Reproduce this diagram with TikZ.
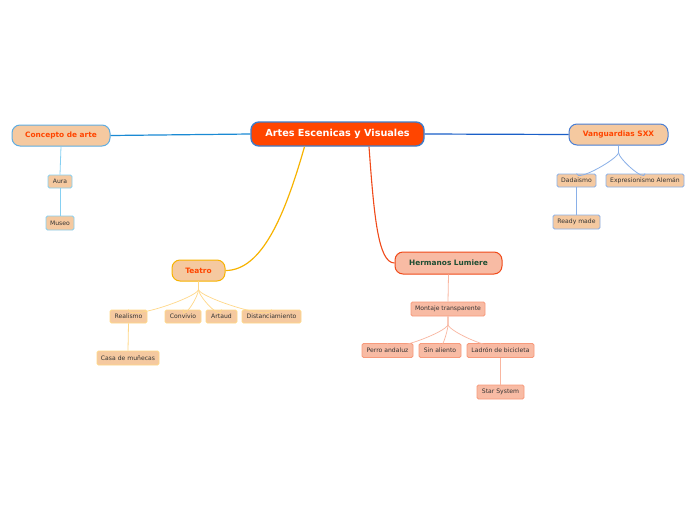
\documentclass[tikz,border=0pt]{standalone}
\usepackage{fontspec}
\setmainfont{DejaVu Sans}
\begin{document}
\begin{tikzpicture}[x=1pt,y=-1pt,
  rootbox/.style={draw=rootb,line width=1.4pt,fill=rootf,rounded corners=8pt,inner sep=0pt,text=white,font=\fontsize{9.7}{11}\selectfont\bfseries},
  lvlbox/.style={fill=peach,line width=1pt,rounded corners=8pt,inner sep=0pt,text=redtxt,font=\fontsize{7.4}{9}\selectfont\bfseries},
  leaf/.style={fill=peach,line width=0.9pt,rounded corners=1.5pt,inner sep=0pt,text=leaftxt,font=\fontsize{6.1}{7}\selectfont},
  sleaf/.style={leaf,fill=salmon,draw=salmonb},
]
\definecolor{rootf}{HTML}{FF4500}
\definecolor{rootb}{HTML}{3E7CC9}
\definecolor{peach}{HTML}{F5C9A0}
\definecolor{salmon}{HTML}{F8BBA4}
\definecolor{salmonb}{HTML}{F79A7C}
\definecolor{redtxt}{HTML}{FF4500}
\definecolor{leaftxt}{HTML}{333333}
\definecolor{greentxt}{HTML}{1E4D32}
\definecolor{cblue}{HTML}{1A8AD4}
\definecolor{cbluel}{HTML}{86D0F2}
\definecolor{vblue}{HTML}{1A5FC8}
\definecolor{vbluel}{HTML}{8AB0E8}
\definecolor{vbord}{HTML}{4A7FD4}
\definecolor{torange}{HTML}{F7B300}
\definecolor{torangel}{HTML}{FFD888}
\definecolor{lred}{HTML}{F04A1A}
\definecolor{lredl}{HTML}{F9B6A0}
\useasboundingbox[fill=white] (0,0) rectangle (696,520);

\node[rootbox,minimum width=173pt,minimum height=24pt] (root) at (337.5,134) {Artes Escenicas y Visuales};

% Concepto de arte
\node[lvlbox,draw=cblue!70,minimum width=98pt,minimum height=21pt] (con) at (61,135.5) {Concepto de arte};
\node[leaf,draw=cbluel,minimum width=24pt,minimum height=13pt] (aura) at (60,181.5) {Aura};
\node[leaf,draw=cbluel,minimum width=28pt,minimum height=14pt] (museo) at (60,223) {Museo};

% Vanguardias
\node[lvlbox,draw=vbord,minimum width=99pt,minimum height=21pt] (van) at (618.5,134.5) {Vanguardias SXX};
\node[leaf,draw=vbluel,minimum width=39pt,minimum height=13pt] (dada) at (576.5,180.5) {Dadaismo};
\node[leaf,draw=vbluel,minimum width=78pt,minimum height=13pt] (expr) at (645,180.5) {Expresionismo Alemán};
\node[leaf,draw=vbluel,minimum width=47pt,minimum height=14pt] (ready) at (576.5,222) {Ready made};

% Teatro
\node[lvlbox,draw=torange,minimum width=53pt,minimum height=21pt] (tea) at (198.5,270.5) {Teatro};
\node[leaf,draw=torangel,minimum width=37pt,minimum height=13pt] (real) at (128.5,316.5) {Realismo};
\node[leaf,draw=torangel,minimum width=36pt,minimum height=13pt] (conv) at (183,316.5) {Convivio};
\node[leaf,draw=torangel,minimum width=31pt,minimum height=13pt] (art) at (221.5,316.5) {Artaud};
\node[leaf,draw=torangel,minimum width=59pt,minimum height=13pt] (dist) at (271.5,316.5) {Distanciamiento};
\node[leaf,draw=torangel,minimum width=62pt,minimum height=14pt] (casa) at (128,358) {Casa de muñecas};

% Hermanos Lumiere
\node[lvlbox,fill=salmon,draw=lred,text=greentxt,minimum width=107pt,minimum height=22pt] (lum) at (448.5,263) {Hermanos Lumiere};
\node[sleaf,minimum width=74pt,minimum height=14pt] (mon) at (448,309) {Montaje transparente};
\node[sleaf,minimum width=51pt,minimum height=14pt] (perro) at (387.5,350.5) {Perro andaluz};
\node[sleaf,minimum width=42pt,minimum height=14pt] (sin) at (440,350.5) {Sin aliento};
\node[sleaf,minimum width=67pt,minimum height=14pt] (lad) at (500.5,350.5) {Ladrón de bicicleta};
\node[sleaf,minimum width=47pt,minimum height=14pt] (star) at (500.5,392) {Star System};

% main connectors
\draw[cblue,line width=1.2pt] (root.west) -- (con.east);
\draw[vblue,line width=1.2pt] (root.east) -- (van.west);
\draw[torange,line width=1.2pt] ([xshift=-33pt]root.south) .. controls (285,215) and (262,270.5) .. (tea.east);
\draw[lred,line width=1.1pt] ([xshift=31.5pt]root.south) .. controls (374,215) and (378,263) .. (lum.west);

% Concepto
\draw[cbluel,line width=0.8pt] (con.south) -- (aura.north);
\draw[cbluel,line width=0.8pt] (aura.south) -- (museo.north);

% Vanguardias
\foreach \c in {dada,expr}
  \draw[vbluel,line width=0.8pt] (van.south) -- ++(0,7) .. controls ++(0,6) and ([yshift=-9pt]\c.north) .. (\c.north);
\draw[vbluel,line width=0.8pt] (dada.south) -- (ready.north);

% Teatro
\foreach \c in {real,conv,art,dist}
  \draw[torangel,line width=0.7pt] (tea.south) -- ++(0,8) .. controls ++(0,7) and ([yshift=-12pt]\c.north) .. (\c.north);
\draw[torangel,line width=0.8pt] (real.south) -- (casa.north);

% Lumiere
\draw[lredl,line width=0.8pt] (lum.south) -- (mon.north);
\foreach \c in {perro,sin,lad}
  \draw[lredl,line width=0.7pt] (mon.south) -- ++(0,8) .. controls ++(0,7) and ([yshift=-12pt]\c.north) .. (\c.north);
\draw[lredl,line width=0.8pt] (lad.south) -- (star.north);
\end{tikzpicture}
\end{document}
